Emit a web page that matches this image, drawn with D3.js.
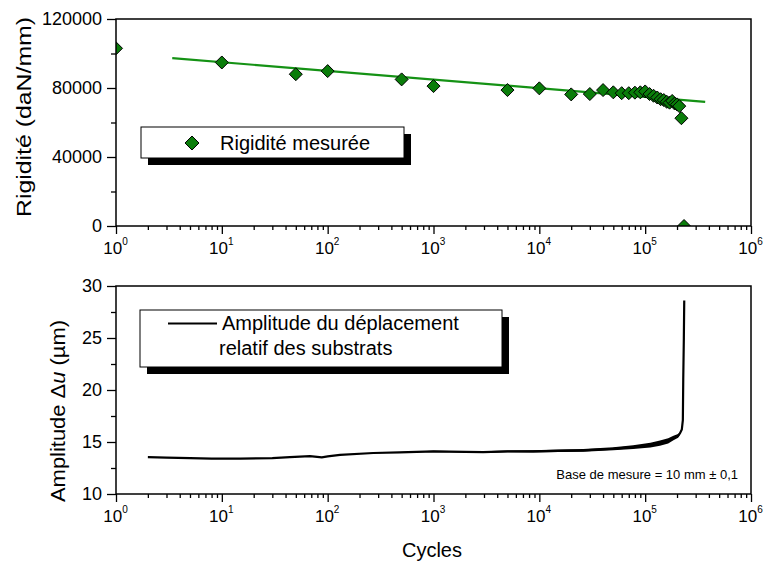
<!DOCTYPE html>
<html>
<head>
<meta charset="utf-8">
<script src="https://cdn.jsdelivr.net/npm/d3@7"></script>
<style>
    body { margin: 0; background: #fff; }
    text { font-family: "Liberation Sans", Arial, sans-serif; fill: #000; }
</style>
</head>
<body>
<div id="vis"></div>
<script>
// Rigidity measurements (top panel)
var rigCycles = [1, 10, 50, 100, 500, 1000, 5000, 10000, 20000, 30000, 40000,
    50000, 60000, 70000, 80000, 90000, 100000, 110000, 120000, 130000, 140000,
    150000, 160000, 170000, 180000, 190000, 200000, 210000, 220000, 233000];
var rigValues = [103000, 94800, 88000, 89800, 85000, 81100, 78800, 79800, 76300, 76500, 78800,
    77500, 77000, 77000, 77300, 77500, 78000, 76500, 75500, 74500, 73500,
    73000, 72000, 71500, 72500, 71000, 70500, 69500, 62500, 0];

// Fitted trend line (end points)
var fitCycles = [3.4, 369000];
var fitValues = [97300, 72000];

// Displacement amplitude (bottom panel)
var ampCycles = [2, 3, 5, 8, 15, 30, 44, 68, 88, 100, 131, 270, 480, 1000, 2000, 2950,
    5000, 8700, 15000, 26000, 50000, 77000, 112000, 138000, 165000, 185000, 205000,
    214000, 222000, 227000, 229000, 232000, 234000];
var ampValues = [13.55, 13.5, 13.45, 13.4, 13.4, 13.45, 13.55, 13.65, 13.52, 13.62, 13.77, 13.94,
    14.0, 14.1, 14.05, 14.03, 14.1, 14.1, 14.15, 14.2, 14.35, 14.5, 14.7, 14.9, 15.1, 15.38,
    15.6, 15.86, 16.2, 17.1, 21, 25, 28.6];
var ampSpread = [0, 0, 0, 0, 0, 0, 0, 0, 0, 0, 0, 0.03, 0.04, 0.06, 0.07, 0.08,
    0.09, 0.1, 0.12, 0.13, 0.15, 0.18, 0.22, 0.25, 0.25, 0.22, 0.18,
    0.12, 0.06, 0, 0, 0, 0];

// Tick labels
var rigTicks = [0, 40000, 80000, 120000];
var rigMinor = [20000, 60000, 100000];
var ampTicks = [10, 15, 20, 25, 30];
var ampMinor = [12.5, 17.5, 22.5, 27.5];

(function() {
    var width = 763;
    var height = 565;
    var left = 116, right = 751;
    var top1 = 19, bot1 = 226;
    var top2 = 286, bot2 = 494;
    var green = "#0a7d0a";

    var svg = d3.select("#vis")
        .append("svg")
        .attr("width", width)
        .attr("height", height);

    var x = d3.scaleLog().domain([1, 1e6]).range([left, right]);
    var yRig = d3.scaleLinear().domain([0, 120000]).range([bot1, top1]);
    var yAmp = d3.scaleLinear().domain([10, 30]).range([bot2, top2]);

    function isMajor(d) {
        var l = Math.log10(d);
        return Math.abs(l - Math.round(l)) < 1e-9;
    }

    // x axis with log minor ticks and 10^n labels
    function drawXAxis(y0) {
        var g = svg.append("g")
            .attr("transform", "translate(0," + y0 + ")")
            .call(d3.axisBottom(x).tickValues(x.ticks()).tickSize(8).tickFormat(""));
        g.select(".domain").remove();
        g.selectAll(".tick line")
            .attr("stroke", "#000")
            .attr("stroke-width", 1.3)
            .attr("y2", d => isMajor(d) ? 8 : 4);
        g.selectAll(".tick text").remove();
        var t = g.selectAll(".tick").filter(isMajor)
            .append("text")
            .attr("y", 28)
            .attr("x", -1)
            .attr("text-anchor", "middle")
            .attr("font-size", 17)
            .text("10");
        t.append("tspan")
            .attr("dy", -9)
            .attr("font-size", 10)
            .text(d => Math.round(Math.log10(d)));
    }

    function drawYAxis(scale, major, minor) {
        var g = svg.append("g")
            .attr("transform", "translate(" + left + ",0)")
            .call(d3.axisLeft(scale).tickValues(major.concat(minor)).tickSize(9).tickPadding(5)
                .tickFormat(d => major.indexOf(d) >= 0 ? d : ""));
        g.select(".domain").remove();
        g.selectAll(".tick line")
            .attr("stroke", "#000")
            .attr("stroke-width", 1.3)
            .attr("x2", d => major.indexOf(d) >= 0 ? -9 : -5);
        g.selectAll(".tick text")
            .attr("font-size", 18)
            .attr("font-family", "Liberation Sans, Arial, sans-serif")
            .attr("fill", "#000");
    }

    function frame(y0, y1) {
        svg.append("rect")
            .attr("x", left).attr("y", y0)
            .attr("width", right - left).attr("height", y1 - y0)
            .attr("fill", "none")
            .attr("stroke", "#000")
            .attr("stroke-width", 1.5);
    }

    function diamond(r) {
        return "M0," + (-r) + "L" + r + ",0L0," + r + "L" + (-r) + ",0Z";
    }

    function legendBox(x0, y0, w, h) {
        svg.append("rect")
            .attr("x", x0 + 7).attr("y", y0 + 7)
            .attr("width", w).attr("height", h)
            .attr("fill", "#000");
        svg.append("rect")
            .attr("x", x0).attr("y", y0)
            .attr("width", w).attr("height", h)
            .attr("fill", "#fff")
            .attr("stroke", "#000")
            .attr("stroke-width", 1);
    }

    // clip paths for both panels
    var defs = svg.append("defs");
    defs.append("clipPath").attr("id", "clip1").append("rect")
        .attr("x", left).attr("y", top1).attr("width", right - left).attr("height", bot1 - top1);
    defs.append("clipPath").attr("id", "clip2").append("rect")
        .attr("x", left).attr("y", top2).attr("width", right - left).attr("height", bot2 - top2);

    // ---------- top panel ----------
    var p1 = svg.append("g").attr("clip-path", "url(#clip1)");

    var fitLine = d3.line()
        .x((d, i) => x(fitCycles[i]))
        .y((d, i) => yRig(fitValues[i]));
    p1.append("path")
        .datum(fitValues)
        .attr("d", fitLine)
        .attr("fill", "none")
        .attr("stroke", "#159215")
        .attr("stroke-width", 2.2);

    p1.selectAll(".pt")
        .data(rigValues)
        .enter().append("path")
        .attr("class", "pt")
        .attr("transform", (d, i) => "translate(" + x(rigCycles[i]) + "," + yRig(d) + ")")
        .attr("d", diamond(6.5))
        .attr("fill", green)
        .attr("stroke", "#000")
        .attr("stroke-width", 1);

    frame(top1, bot1);
    drawXAxis(bot1);
    drawYAxis(yRig, rigTicks, rigMinor);

    svg.append("text")
        .attr("transform", "translate(31,117) rotate(-90)")
        .attr("text-anchor", "middle")
        .attr("font-size", 21)
        .attr("textLength", 200)
        .attr("lengthAdjust", "spacingAndGlyphs")
        .text("Rigidité (daN/mm)");

    legendBox(141, 127, 263, 31);
    svg.append("path")
        .attr("transform", "translate(192,143)")
        .attr("d", diamond(7))
        .attr("fill", green)
        .attr("stroke", "#000")
        .attr("stroke-width", 1);
    svg.append("text")
        .attr("x", 220).attr("y", 150)
        .attr("font-size", 20)
        .text("Rigidité mesurée");

    // ---------- bottom panel ----------
    var p2 = svg.append("g").attr("clip-path", "url(#clip2)");

    var band = d3.area()
        .x((d, i) => x(ampCycles[i]))
        .y0((d, i) => yAmp(d - ampSpread[i]))
        .y1((d, i) => yAmp(d + ampSpread[i]));
    p2.append("path")
        .datum(ampValues)
        .attr("d", band)
        .attr("fill", "#000");

    var ampLine = d3.line()
        .x((d, i) => x(ampCycles[i]))
        .y(d => yAmp(d));
    p2.append("path")
        .datum(ampValues)
        .attr("d", ampLine)
        .attr("fill", "none")
        .attr("stroke", "#000")
        .attr("stroke-width", 2.2);

    frame(top2, bot2);
    drawXAxis(bot2);
    drawYAxis(yAmp, ampTicks, ampMinor);

    var yl = svg.append("text")
        .attr("transform", "translate(65,411) rotate(-90)")
        .attr("text-anchor", "middle")
        .attr("font-size", 21)
        .attr("textLength", 182)
        .attr("lengthAdjust", "spacingAndGlyphs");
    yl.append("tspan").text("Amplitude \u0394");
    yl.append("tspan").attr("font-style", "italic").text("u");
    yl.append("tspan").text(" (\u00b5m)");

    legendBox(140, 310, 362, 57);
    svg.append("line")
        .attr("x1", 168).attr("x2", 217)
        .attr("y1", 323.5).attr("y2", 323.5)
        .attr("stroke", "#000")
        .attr("stroke-width", 2.2);
    svg.append("text")
        .attr("x", 222).attr("y", 330)
        .attr("font-size", 20)
        .text("Amplitude du déplacement");
    svg.append("text")
        .attr("x", 219).attr("y", 355)
        .attr("font-size", 20)
        .text("relatif des substrats");

    svg.append("text")
        .attr("x", 738).attr("y", 479)
        .attr("text-anchor", "end")
        .attr("font-size", 13)
        .attr("fill", "#222")
        .text("Base de mesure = 10 mm \u00b1 0,1");

    svg.append("text")
        .attr("x", 432).attr("y", 557)
        .attr("text-anchor", "middle")
        .attr("font-size", 20)
        .text("Cycles");
})();
</script>
</body>
</html>
